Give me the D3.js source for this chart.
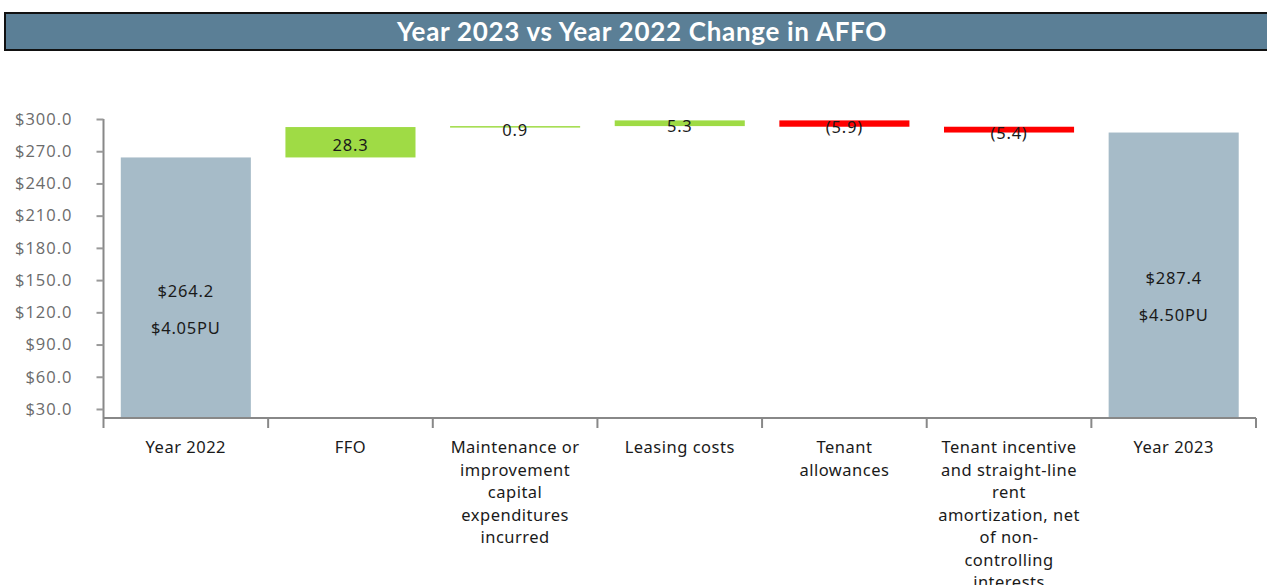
<!DOCTYPE html>
<html>
<head>
<meta charset="utf-8">
<script src="https://cdn.jsdelivr.net/npm/d3@7"></script>
<style>
  body { margin: 0; background: #fff; }
  svg { display: block; }
</style>
</head>
<body>
<div id="chart"></div>
<script>
// ---- data ---------------------------------------------------------------
var categories = ["Year 2022", "FFO", "Maintenance or\nimprovement\ncapital\nexpenditures\nincurred",
                  "Leasing costs", "Tenant\nallowances",
                  "Tenant incentive\nand straight-line\nrent\namortization, net\nof non-\ncontrolling\ninterests",
                  "Year 2023"];
var kinds   = ["total", "delta", "delta", "delta", "delta", "delta", "total"];
var values  = [264.2, 28.3, 0.9, 5.3, -5.9, -5.4, 287.4];
var perUnit = ["$4.05PU", null, null, null, null, null, "$4.50PU"];
var yTicks  = [30, 60, 90, 120, 150, 180, 210, 240, 270, 300];
var title   = "Year 2023 vs Year 2022 Change in AFFO";

// running totals for the waterfall
var run = 0;
var rows = categories.map(function(c, i) {
  var r = { name: c, kind: kinds[i], value: values[i], pu: perUnit[i] };
  if (r.kind === "total") { r.y0 = 0; r.y1 = r.value; run = r.value; }
  else { r.y0 = run; r.y1 = run + r.value; run = r.y1; }
  return r;
});

var W = 1267, H = 585;
var svg = d3.select("#chart").append("svg").attr("width", W).attr("height", H);
var bodyFont = "16.5px 'Noto Sans', sans-serif";

// ---- title bar ----------------------------------------------------------
svg.append("rect")
  .attr("x", 5).attr("y", 13).attr("width", 1280).attr("height", 37)
  .attr("fill", "#5b7f96").attr("stroke", "#111").attr("stroke-width", 2);
svg.append("text")
  .attr("x", 642).attr("y", 41)
  .attr("text-anchor", "middle")
  .attr("fill", "#fff")
  .style("font", "bold 26px Lato, sans-serif")
  .style("letter-spacing", "0.7px")
  .text(title);

// ---- scales -------------------------------------------------------------
var pad = 0.21;
var x = d3.scaleBand().domain(categories).range([103.5, 1256]).paddingInner(pad).paddingOuter(pad / 2);
var y = d3.scaleLinear().domain([21.6, 300]).range([418, 119]);
var floor = y.domain()[0];

var colour = function(d) {
  if (d.kind === "total") return "#a6bbc8";
  return d.value >= 0 ? "#9fdb45" : "#ff0000";
};

// ---- bars ---------------------------------------------------------------
svg.selectAll("rect.bar")
  .data(rows)
  .enter().append("rect")
  .attr("class", "bar")
  .attr("x", function(d) { return x(d.name); })
  .attr("width", x.bandwidth())
  .attr("y", function(d) { return y(Math.max(d.y0, d.y1)); })
  .attr("height", function(d) {
    var lo = Math.max(Math.min(d.y0, d.y1), floor);
    return Math.max(1.5, y(lo) - y(Math.max(d.y0, d.y1)));
  })
  .attr("fill", colour);

// ---- value labels -------------------------------------------------------
var fmt = d3.format(".1f");
svg.selectAll("text.val")
  .data(rows)
  .enter().append("text")
  .attr("class", "val")
  .attr("x", function(d) { return x(d.name) + x.bandwidth() / 2; })
  .attr("y", function(d) {
    var lo = Math.max(Math.min(d.y0, d.y1), floor);
    return (y(lo) + y(Math.max(d.y0, d.y1))) / 2 + 9;
  })
  .attr("text-anchor", "middle")
  .attr("fill", "#1a1a1a")
  .style("font", bodyFont)
  .style("letter-spacing", "0.8px")
  .text(function(d) {
    if (d.kind === "total") return "$" + fmt(d.value);
    return d.value < 0 ? "(" + fmt(-d.value) + ")" : fmt(d.value);
  });

svg.selectAll("text.pu")
  .data(rows.filter(function(d) { return d.pu; }))
  .enter().append("text")
  .attr("class", "pu")
  .attr("x", function(d) { return x(d.name) + x.bandwidth() / 2; })
  .attr("y", function(d) { return (y(floor) + y(d.y1)) / 2 + 46; })
  .attr("text-anchor", "middle")
  .attr("fill", "#1a1a1a")
  .style("font", bodyFont)
  .style("letter-spacing", "0.8px")
  .text(function(d) { return d.pu; });

// ---- y axis -------------------------------------------------------------
var yAxis = svg.append("g")
  .attr("transform", "translate(103.5,0)")
  .call(d3.axisLeft(y).tickValues(yTicks).tickSize(7).tickPadding(24)
          .tickFormat(function(d) { return "$" + fmt(d); }));
yAxis.select(".domain").attr("stroke", "#888").attr("stroke-width", 2)
  .attr("d", "M0," + y(300) + "V" + y(floor));
yAxis.selectAll(".tick line").attr("stroke", "#999").attr("stroke-width", 2);
yAxis.selectAll(".tick text")
  .attr("fill", "#6b6b6b")
  .style("font", "16.5px 'Open Sans', sans-serif")
  .style("letter-spacing", "1px");

// ---- x axis -------------------------------------------------------------
var step = x.step();
var bounds = categories.map(function(c) { return x(c) - step * pad / 2; });
bounds.push(bounds[bounds.length - 1] + step);

var xAxis = svg.append("g");
xAxis.append("line")
  .attr("x1", bounds[0]).attr("x2", bounds[bounds.length - 1])
  .attr("y1", y(floor)).attr("y2", y(floor))
  .attr("stroke", "#888").attr("stroke-width", 2);
xAxis.selectAll("line.tk")
  .data(bounds)
  .enter().append("line")
  .attr("class", "tk")
  .attr("x1", function(d) { return d; }).attr("x2", function(d) { return d; })
  .attr("y1", y(floor)).attr("y2", y(floor) + 10)
  .attr("stroke", "#888").attr("stroke-width", 2);

var lab = xAxis.selectAll("text.cat")
  .data(categories)
  .enter().append("text")
  .attr("class", "cat")
  .attr("text-anchor", "middle")
  .attr("fill", "#1a1a1a")
  .style("font", bodyFont)
  .style("letter-spacing", "0.5px");
lab.selectAll("tspan")
  .data(function(d) { return d.split("\n").map(function(t) { return { t: t, c: d }; }); })
  .enter().append("tspan")
  .attr("x", function(d) { return x(d.c) + x.bandwidth() / 2; })
  .attr("y", function(d, i) { return 453 + i * 22.5; })
  .text(function(d) { return d.t; });
</script>
</body>
</html>
